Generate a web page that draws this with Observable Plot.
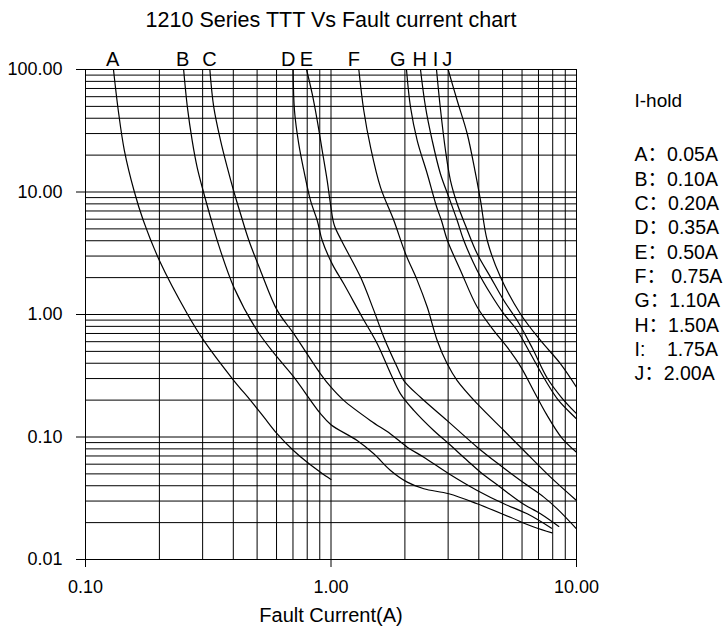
<!DOCTYPE html>
<html>
<head>
<meta charset="utf-8">
<script src="https://cdn.jsdelivr.net/npm/d3@7"></script>
<script src="https://cdn.jsdelivr.net/npm/@observablehq/plot@0.6"></script>
<style>
  body { margin: 0; background: #fff; }
  #chart { width: 724px; height: 632px; }
</style>
</head>
<body>
<div id="chart"></div>
<script>
// ---- text ----
const titleText = "1210 Series TTT Vs Fault current chart";
const xLabelText = "Fault Current(A)";
const legendTitle = "I-hold";
const legendLines = ["A：0.05A", "B：0.10A", "C：0.20A", "D：0.35A", "E：0.50A",
                     "F：\u00a00.75A", "G：1.10A", "H：1.50A", "I:\u00a0\u00a0\u00a0\u00a01.75A", "J：2.00A"];

// ---- axes / grid values ----
const xTicks = [0.1, 1, 10];
const yTicks = [0.01, 0.1, 1, 10, 100];
const xGrid = [0.1, 0.2, 0.3, 0.4, 0.5, 0.6, 0.7, 0.8, 0.9, 1, 2, 3, 4, 5, 6, 7, 8, 9, 10];
const yGrid = [0.01, 0.02, 0.03, 0.04, 0.05, 0.06, 0.07, 0.08, 0.09,
               0.1, 0.2, 0.3, 0.4, 0.5, 0.6, 0.7, 0.8, 0.9,
               1, 2, 3, 4, 5, 6, 7, 8, 9,
               10, 20, 30, 40, 50, 60, 70, 80, 90, 100];

// ---- curve labels above the chart ----
const curveLetters = ["A", "B", "C", "D", "E", "F", "G", "H", "I", "J"];
const letterX = [0.129, 0.249, 0.320, 0.669, 0.795, 1.238, 1.871, 2.30, 2.666, 2.973];

// ---- series: fault current (A) vs time to trip (s) ----
const aCurrent = [0.130, 0.136, 0.144, 0.158, 0.172, 0.200, 0.260, 0.303, 0.402, 0.470, 0.532, 0.604, 0.703, 0.800, 0.906, 1.00];
const aTime    = [100, 46.3, 21.8, 10.1, 5.85, 2.76, 1.01, 0.614, 0.289, 0.199, 0.146, 0.106, 0.0776, 0.0622, 0.0516, 0.045];

const bCurrent = [0.251, 0.260, 0.272, 0.285, 0.302, 0.323, 0.344, 0.402, 0.500, 0.604, 0.706, 0.906, 1.00, 1.278, 1.494, 1.748, 2.044, 2.388, 3.02, 3.94, 5.38, 6.70, 7.96];
const bTime    = [100, 49.3, 26.3, 15.9, 10.1, 6.22, 4.02, 1.67, 0.740, 0.448, 0.308, 0.155, 0.126, 0.0936, 0.0729, 0.0533, 0.0428, 0.0378, 0.0344, 0.0285, 0.0221, 0.0184, 0.0165];

const cCurrent = [0.321, 0.333, 0.355, 0.378, 0.402, 0.428, 0.463, 0.516, 0.604, 0.706, 0.906, 1.00, 1.127, 1.449, 1.748, 2.044, 2.388, 3.02, 3.94, 5.06, 6.30, 7.91];
const cTime    = [100, 49.3, 26.3, 15.9, 10.1, 6.64, 4.02, 2.29, 1.08, 0.695, 0.328, 0.255, 0.199, 0.136, 0.106, 0.0826, 0.0684, 0.0501, 0.0366, 0.0285, 0.0236, 0.0180];

const dCurrent = [0.701, 0.710, 0.739, 0.775, 0.825, 0.879, 0.921, 1.011, 1.127, 1.340, 1.543, 1.748, 1.919, 2.174, 2.62, 3.02, 3.588, 4.064, 4.90, 5.915, 7.135, 8.47];
const dTime    = [100, 46.3, 24.7, 15.0, 8.53, 5.85, 4.02, 2.59, 1.78, 0.950, 0.577, 0.330, 0.225, 0.165, 0.113, 0.0880, 0.0643, 0.0516, 0.0389, 0.0294, 0.0236, 0.0186];

const eCurrent = [0.795, 0.838, 0.879, 0.921, 0.965, 0.995, 1.030, 1.103, 1.319, 1.494, 1.641, 1.861, 1.980, 2.315, 2.973, 3.94, 4.90, 5.915, 7.36, 8.35, 10];
const eTime    = [100, 63.4, 38.3, 21.8, 12.4, 8.01, 5.40, 4.02, 2.02, 1.08, 0.653, 0.371, 0.289, 0.211, 0.136, 0.0826, 0.0585, 0.0441, 0.0323, 0.0259, 0.0178];

const fCurrent = [1.298, 1.360, 1.449, 1.591, 1.803, 2.012, 2.245, 2.466, 2.708, 2.973, 3.266, 3.94, 5.06, 6.10, 7.84, 10];
const fTime    = [100, 46.3, 23.2, 10.9, 5.85, 3.13, 1.90, 1.15, 0.614, 0.396, 0.289, 0.187, 0.113, 0.0776, 0.0470, 0.0303];

const gCurrent = [2.030, 2.108, 2.245, 2.466, 2.690, 2.818, 2.98, 3.37, 3.94, 4.605, 5.22, 5.915, 6.68, 7.55, 8.69, 10];
const gTime    = [100, 49.3, 26.3, 14.1, 7.62, 5.85, 4.02, 2.29, 1.15, 0.740, 0.541, 0.377, 0.240, 0.153, 0.099, 0.0751];

const hCurrent = [2.315, 2.427, 2.584, 2.79, 3.02, 3.266, 3.475, 3.94, 4.464, 5.06, 5.735, 6.496, 7.48, 8.45, 10];
const hTime    = [100, 49.3, 26.3, 14.1, 9.07, 5.85, 4.02, 2.29, 1.476, 1.01, 0.740, 0.478, 0.289, 0.199, 0.141];

const iCurrent = [2.690, 2.79, 2.927, 3.067, 3.266, 3.531, 3.94, 4.464, 5.06, 5.80, 6.62, 7.62, 8.69, 10];
const iTime    = [100, 48.0, 21.8, 12.4, 8.01, 5.33, 3.13, 2.02, 1.30, 0.861, 0.528, 0.300, 0.210, 0.155];

const jCurrent = [3.00, 3.266, 3.588, 3.879, 4.064, 4.33, 4.90, 5.915, 7.135, 8.61, 10];
const jTime    = [100, 55.8, 29.9, 14.1, 8.53, 4.02, 2.02, 1.01, 0.614, 0.396, 0.255];

const series = [
  ["A", aCurrent, aTime], ["B", bCurrent, bTime], ["C", cCurrent, cTime],
  ["D", dCurrent, dTime], ["E", eCurrent, eTime], ["F", fCurrent, fTime],
  ["G", gCurrent, gTime], ["H", hCurrent, hTime], ["I", iCurrent, iTime],
  ["J", jCurrent, jTime]
];
const rows = series.flatMap(([id, cur, tim]) => cur.map((c, k) => ({id, current: c, time: tim[k]})));

const font = "'Liberation Sans', Arial, 'Noto Sans CJK SC', sans-serif";

const chart = Plot.plot({
  width: 724,
  height: 632,
  marginLeft: 85,
  marginRight: 148,
  marginTop: 69,
  marginBottom: 73,
  x: {type: "log", domain: [0.1, 10]},
  y: {type: "log", domain: [0.01, 100]},
  style: {fontFamily: font, fontSize: "18px", background: "#fff", color: "#000", overflow: "visible"},
  marks: [
    Plot.ruleX(xGrid, {stroke: "#000", strokeWidth: 1}),
    Plot.ruleY(yGrid, {stroke: "#000", strokeWidth: 1}),
    Plot.axisY({ticks: yTicks, tickFormat: d3.format(".2f"), tickSize: 9, tickPadding: 14, label: null, fontSize: 18}),
    Plot.axisX({ticks: xTicks, tickFormat: d3.format(".2f"), tickSize: 8, tickPadding: 13, label: null, fontSize: 18}),
    Plot.line(rows, {x: "current", y: "time", z: "id", curve: "catmull-rom", stroke: "#000", strokeWidth: 1.2}),
    Plot.text(curveLetters, {x: letterX, text: d => d, frameAnchor: "top", lineAnchor: "bottom", dy: -4, fontSize: 20}),
    Plot.text([titleText], {text: d => d, frameAnchor: "top", lineAnchor: "middle", dy: -49, fontSize: 21.5}),
    Plot.text([xLabelText], {text: d => d, frameAnchor: "bottom", lineAnchor: "middle", dy: 56, fontSize: 20}),
    Plot.text([legendTitle], {text: d => d, frameAnchor: "top-right", textAnchor: "start", lineAnchor: "middle", dx: 58, dy: 31, fontSize: 19}),
    Plot.text([legendLines.join("\n")], {text: d => d, frameAnchor: "top-right", textAnchor: "start", lineAnchor: "middle", dx: 58, dy: 193.5, fontSize: 19.5, lineHeight: 24.33 / 19.5})
  ]
});
document.getElementById("chart").appendChild(chart);
</script>
</body>
</html>
